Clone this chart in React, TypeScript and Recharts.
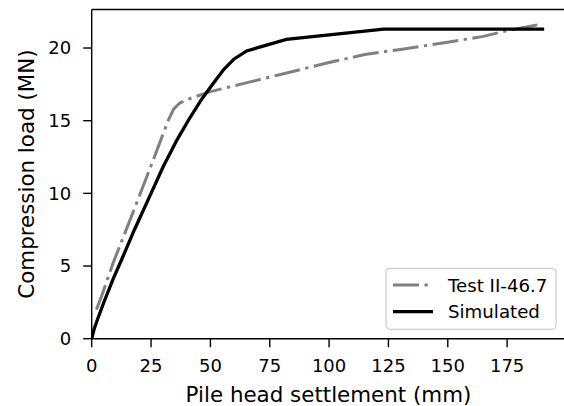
import { LineChart, Line, XAxis, YAxis, ReferenceLine } from "recharts";

// Test II-46.7 (measured)
const testSettlement = [2, 4.1, 9, 16.7, 25, 32.2, 34.5, 37, 40, 50, 65, 80, 100, 115, 130, 150, 165, 175, 188];
const testLoad = [2, 2.9, 5.2, 8.4, 11.9, 15.0, 15.8, 16.2, 16.45, 17.0, 17.6, 18.2, 19.0, 19.55, 19.9, 20.4, 20.8, 21.2, 21.6];

// Simulated
const simSettlement = [0, 1, 2.5, 5.5, 9, 12.5, 18, 25, 30, 36, 41, 46, 50, 55.5, 60, 65.3, 82, 123, 190.6];
const simLoad = [0, 0.65, 1.35, 2.66, 4.1, 5.4, 7.5, 10, 11.8, 13.7, 15.1, 16.4, 17.3, 18.5, 19.25, 19.8, 20.6, 21.3, 21.3];

const xTicks = [0, 25, 50, 75, 100, 125, 150, 175];
const yTicks = [0, 5, 10, 15, 20];
const xMax = 199.5;
const yMax = 22.65;

const testData = testSettlement.map((x, i) => ({ x, y: testLoad[i] }));
const simData = simSettlement.map((x, i) => ({ x, y: simLoad[i] }));

const FONT = "DejaVu Sans, sans-serif";
const DASHDOT = "26 5.5 3.3 5.5";

function LegendBox() {
  return (
    <svg width={172} height={63} style={{ position: "absolute", left: 385, top: 267 }}>
      <rect x={1} y={1.3} width={170} height={61} rx={4} fill="rgba(255,255,255,0.8)" stroke="#cccccc" strokeWidth={1.2} />
      <line x1={8} x2={48} y1={18} y2={18} stroke="#808080" strokeWidth={3} strokeDasharray={DASHDOT} />
      <text x={63} y={24.5} fontFamily={FONT} fontSize={18.2} fill="#000">Test II-46.7</text>
      <line x1={8} x2={48} y1={44.7} y2={44.7} stroke="#000" strokeWidth={3.3} />
      <text x={63} y={51} fontFamily={FONT} fontSize={18.2} fill="#000">Simulated</text>
    </svg>
  );
}

export default function App() {
  return (
    <div style={{ position: "absolute", left: 0, top: 0, width: 564, height: 406, overflow: "hidden", background: "#fff" }}>
      <LineChart width={572} height={406} margin={{ top: 9.5, right: 6.7, bottom: 0, left: 0 }}>
        <XAxis
          type="number"
          dataKey="x"
          domain={[0, xMax]}
          ticks={xTicks}
          allowDataOverflow
          height={67.3}
          tickSize={8.5}
          tickMargin={12}
          stroke="#000"
          strokeWidth={1.4}
          tick={{ fill: "#000", fontSize: 18, fontFamily: FONT }}
          label={{ value: "Pile head settlement (mm)", position: "insideBottom", offset: 4.3, fill: "#000", fontSize: 21.4, fontFamily: FONT }}
        />
        <YAxis
          type="number"
          dataKey="y"
          domain={[0, yMax]}
          ticks={yTicks}
          allowDataOverflow
          width={91.7}
          tickSize={8.5}
          tickMargin={12}
          stroke="#000"
          strokeWidth={1.4}
          tick={{ fill: "#000", fontSize: 18, fontFamily: FONT }}
          label={{ value: "Compression load (MN)", angle: -90, position: "insideLeft", offset: 26, fill: "#000", fontSize: 21.4, fontFamily: FONT, style: { textAnchor: "middle" } }}
        />
        <ReferenceLine y={yMax} stroke="#000" strokeWidth={1.4} />
        <ReferenceLine x={xMax} stroke="#000" strokeWidth={1.4} />
        <Line
          data={testData}
          dataKey="y"
          type="linear"
          stroke="#808080"
          strokeWidth={3}
          strokeDasharray={DASHDOT}
          dot={false}
          activeDot={false}
          isAnimationActive={false}
        />
        <Line
          data={simData}
          dataKey="y"
          type="linear"
          stroke="#000"
          strokeWidth={3.3}
          dot={false}
          activeDot={false}
          isAnimationActive={false}
        />
      </LineChart>
      <LegendBox />
    </div>
  );
}
